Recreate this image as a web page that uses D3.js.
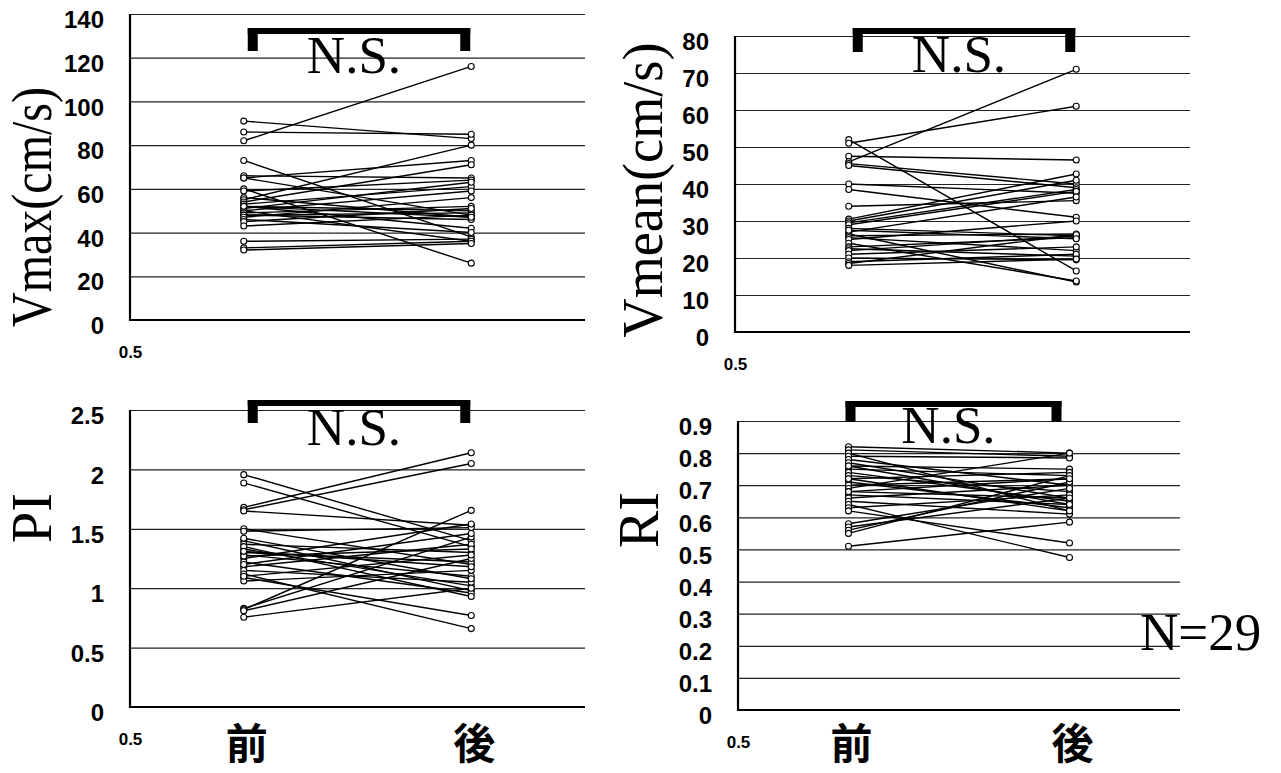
<!DOCTYPE html>
<html>
<head>
<meta charset="utf-8">
<script src="https://cdn.jsdelivr.net/npm/d3@7"></script>
<style>
  body { margin: 0; background: #fff; }
  svg { display: block; }
</style>
</head>
<body>
<svg id="chart" width="1281" height="773"></svg>
<script>
"use strict";

// categories
const groups = [1, 2];
const groupLabels = ["前", "後"];
const xTickValues = [0.5];

// tick labels
const vmaxTicks = [0, 20, 40, 60, 80, 100, 120, 140];
const vmeanTicks = [0, 10, 20, 30, 40, 50, 60, 70, 80];
const piTicks = [0, 0.5, 1, 1.5, 2, 2.5];
const riTicks = [0, 0.1, 0.2, 0.3, 0.4, 0.5, 0.6, 0.7, 0.8, 0.9];

// series (one pair per patient, N=29)
const vmaxPre = [82, 91, 86, 73, 66, 65, 65, 60, 59, 56, 55, 54, 53, 52, 52, 51, 50, 50, 49, 48, 48, 47, 46, 45, 43, 36, 33, 32, 52];
const vmaxPost = [116, 83, 85, 38, 65, 73, 48, 26, 64, 47, 80, 71, 61, 50, 42, 63, 36, 59, 52, 46, 49, 56, 40, 51, 48, 37, 36, 35, 47];

const vmeanPre = [52, 51, 47.5, 46, 45.5, 45, 40, 38.5, 34, 30.5, 30, 29.5, 29, 28, 27, 26.5, 26, 25.5, 25, 24, 23, 22.5, 22, 21, 20, 19, 18.5, 18, 27.5];
const vmeanPost = [16.5, 61, 46.5, 71, 40, 39, 37.5, 31, 35.5, 42.7, 41, 38.5, 38, 26, 36.5, 13.5, 26.5, 22, 30, 13.8, 25.5, 20.5, 26, 23, 19.5, 21, 26.3, 19.7, 25.2];

const piPre = [1.956, 1.886, 1.68, 1.66, 1.65, 1.50, 1.48, 1.40, 1.37, 1.33, 1.30, 1.28, 1.25, 1.22, 1.18, 1.15, 1.12, 1.09, 1.06, 0.83, 0.82, 0.81, 0.756, 1.35, 1.27, 1.20, 1.10, 1.42, 1.31];
const piPost = [1.40, 1.35, 2.14, 2.05, 1.53, 1.20, 1.51, 0.98, 1.30, 1.02, 1.22, 1.10, 1.54, 0.96, 1.37, 1.05, 0.66, 0.77, 1.15, 1.43, 1.655, 1.25, 1.00, 0.93, 1.33, 1.46, 1.28, 1.08, 1.18];

const riPre = [0.82, 0.81, 0.80, 0.79, 0.78, 0.77, 0.76, 0.75, 0.74, 0.73, 0.72, 0.71, 0.70, 0.69, 0.68, 0.67, 0.66, 0.65, 0.64, 0.63, 0.62, 0.58, 0.57, 0.56, 0.55, 0.51, 0.76, 0.68, 0.72];
const riPost = [0.80, 0.79, 0.62, 0.785, 0.70, 0.66, 0.75, 0.73, 0.65, 0.68, 0.74, 0.63, 0.72, 0.80, 0.66, 0.64, 0.70, 0.61, 0.475, 0.67, 0.52, 0.69, 0.66, 0.71, 0.73, 0.585, 0.64, 0.72, 0.62];

const sampleLabel = "N=29";
const sigLabel = "N.S.";

// layout of the four panels
const panels = [
  {
    title: "Vmax(cm/s)", ticks: vmaxTicks, pre: vmaxPre, post: vmaxPost,
    left: 130, right: 585, top: 14, bottom: 320,
    titleX: 51, titleY: 207, titleLen: 240,
    bracketTop: 28, bracketBottom: 51, bracketShift: 0, nsY: 73,
    showGroups: false
  },
  {
    title: "Vmean(cm/s)", ticks: vmeanTicks, pre: vmeanPre, post: vmeanPost,
    left: 735, right: 1190, top: 36, bottom: 332,
    titleX: 662, titleY: 190, titleLen: 295,
    bracketTop: 28, bracketBottom: 52, bracketShift: 0, nsY: 72,
    showGroups: false
  },
  {
    title: "PI", ticks: piTicks, pre: piPre, post: piPost,
    left: 130, right: 585, top: 410, bottom: 707,
    titleX: 51, titleY: 518, titleLen: 0,
    bracketTop: 400, bracketBottom: 423, bracketShift: 0, nsY: 445,
    showGroups: true
  },
  {
    title: "RI", ticks: riTicks, pre: riPre, post: riPost,
    left: 738, right: 1180, top: 421, bottom: 710,
    titleX: 658, titleY: 520, titleLen: 0,
    bracketTop: 401, bracketBottom: 422, bracketShift: -7, nsY: 443,
    showGroups: true
  }
];

// group labels sit at a shared baseline row under the bottom panels
const groupLabelY = 740;

const svg = d3.select("#chart");

function drawPanel(p) {
  const g = svg.append("g");

  const x = d3.scaleLinear().domain([0.5, 2.5]).range([p.left, p.right]);
  const y = d3.scaleLinear().domain([0, d3.max(p.ticks)]).range([p.bottom, p.top]);

  // gridlines + y tick labels
  const yAxis = g.append("g")
    .attr("transform", `translate(${p.left},0)`)
    .call(d3.axisLeft(y)
      .tickValues(p.ticks)
      .tickSize(-(p.right - p.left))
      .tickPadding(26)
      .tickFormat(d => String(d)));

  yAxis.select(".domain").remove();
  yAxis.selectAll(".tick line")
    .attr("stroke", "#222")
    .attr("stroke-width", 1.2);
  yAxis.selectAll(".tick text")
    .attr("y", 6)
    .attr("fill", "#000")
    .style("font-family", "'Liberation Sans', Arial, sans-serif")
    .style("font-weight", "bold")
    .style("font-size", "24px");

  // x axis with its lone 0.5 tick
  const xAxis = g.append("g")
    .attr("transform", `translate(0,${p.bottom})`)
    .call(d3.axisBottom(x)
      .tickValues(xTickValues)
      .tickSize(0)
      .tickPadding(26)
      .tickFormat(d => String(d)));
  xAxis.select(".domain").remove();
  xAxis.selectAll(".tick text")
    .attr("fill", "#000")
    .style("font-family", "'Liberation Sans', Arial, sans-serif")
    .style("font-weight", "bold")
    .style("font-size", "17px");

  // axis lines (left + bottom)
  g.append("path")
    .attr("d", `M${p.left},${p.top}V${p.bottom}H${p.right}`)
    .attr("fill", "none")
    .attr("stroke", "#000")
    .attr("stroke-width", 2.2);

  // paired lines
  const pairs = p.pre.map((v, i) => [v, p.post[i]]);
  g.append("g").selectAll("line")
    .data(pairs)
    .join("line")
    .attr("x1", x(groups[0]))
    .attr("x2", x(groups[1]))
    .attr("y1", d => y(d[0]))
    .attr("y2", d => y(d[1]))
    .attr("stroke", "#000")
    .attr("stroke-width", 1.4);

  // points
  groups.forEach((grp, gi) => {
    g.append("g").selectAll("circle")
      .data(gi === 0 ? p.pre : p.post)
      .join("circle")
      .attr("cx", x(grp))
      .attr("cy", d => y(d))
      .attr("r", 3)
      .attr("fill", "#fff")
      .attr("stroke", "#000")
      .attr("stroke-width", 1.1);
  });

  // significance bracket
  const bx1 = x(groups[0]) + 4 + p.bracketShift;
  const bx2 = x(groups[1]) - 1 + p.bracketShift;
  g.append("rect")
    .attr("x", bx1).attr("y", p.bracketTop)
    .attr("width", bx2 - bx1).attr("height", 6)
    .attr("fill", "#000");
  [bx1, bx2 - 10].forEach(lx => {
    g.append("rect")
      .attr("x", lx).attr("y", p.bracketTop)
      .attr("width", 10).attr("height", p.bracketBottom - p.bracketTop)
      .attr("fill", "#000");
  });
  g.append("text")
    .attr("x", (bx1 + bx2) / 2 - 5)
    .attr("y", p.nsY)
    .attr("text-anchor", "middle")
    .style("font-family", "'Liberation Serif', 'Times New Roman', serif")
    .style("font-size", "53px")
    .text(sigLabel);

  // y title
  const t = g.append("text")
    .attr("transform", `translate(${p.titleX},${p.titleY}) rotate(-90)`)
    .attr("text-anchor", "middle")
    .style("font-family", "'Liberation Serif', 'Times New Roman', serif")
    .style("font-size", "56px")
    .text(p.title);
  if (p.titleLen) {
    t.attr("textLength", p.titleLen).attr("lengthAdjust", "spacingAndGlyphs");
  }

  // group labels under the bottom panels
  if (p.showGroups) {
    g.append("g").selectAll("text")
      .data(groups)
      .join("text")
      .attr("x", d => x(d) + 3)
      .attr("y", groupLabelY)
      .attr("dominant-baseline", "central")
      .attr("text-anchor", "middle")
      .style("font-family", "'Noto Sans CJK JP', sans-serif")
      .style("font-weight", "bold")
      .style("font-size", "42px")
      .text((d, i) => groupLabels[i]);
  }
}

panels.forEach(drawPanel);

svg.append("text")
  .attr("x", 1140)
  .attr("y", 650)
  .style("font-family", "'Liberation Serif', 'Times New Roman', serif")
  .style("font-size", "53px")
  .text(sampleLabel);
</script>
</body>
</html>
